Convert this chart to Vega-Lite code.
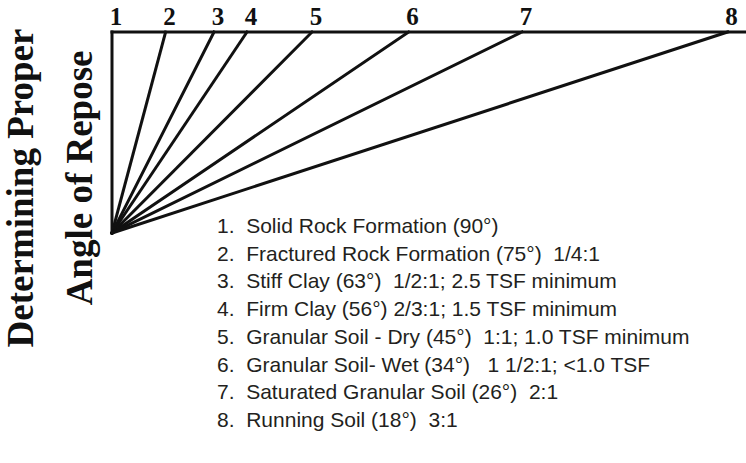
{
  "$schema": "https://vega.github.io/schema/vega-lite/v6.json",
  "width": 746,
  "height": 463,
  "padding": 0,
  "autosize": {"type": "none"},
  "background": "white",
  "config": {"view": {"stroke": null}},
  "datasets": {
    "soils": [
      {"n": 1, "angle": 90, "run": 0.0, "run0": 0, "rise0": 0, "rise1": 1, "label": "1.\u00a0 Solid Rock Formation (90°)"},
      {"n": 2, "angle": 75, "run": 0.268, "run0": 0, "rise0": 0, "rise1": 1, "label": "2.\u00a0 Fractured Rock Formation (75°)\u00a0 1/4:1"},
      {"n": 3, "angle": 63, "run": 0.510, "run0": 0, "rise0": 0, "rise1": 1, "label": "3.\u00a0 Stiff Clay (63°)\u00a0 1/2:1; 2.5 TSF minimum"},
      {"n": 4, "angle": 56, "run": 0.675, "run0": 0, "rise0": 0, "rise1": 1, "label": "4.\u00a0 Firm Clay (56°) 2/3:1; 1.5 TSF minimum"},
      {"n": 5, "angle": 45, "run": 1.0, "run0": 0, "rise0": 0, "rise1": 1, "label": "5.\u00a0 Granular Soil - Dry (45°)\u00a0 1:1; 1.0 TSF minimum"},
      {"n": 6, "angle": 34, "run": 1.483, "run0": 0, "rise0": 0, "rise1": 1, "label": "6.\u00a0 Granular Soil- Wet (34°)\u00a0 \u00a01 1/2:1; <1.0 TSF"},
      {"n": 7, "angle": 26, "run": 2.050, "run0": 0, "rise0": 0, "rise1": 1, "label": "7.\u00a0 Saturated Granular Soil (26°)\u00a0 2:1"},
      {"n": 8, "angle": 18, "run": 3.078, "run0": 0, "rise0": 0, "rise1": 1, "label": "8.\u00a0 Running Soil (18°)\u00a0 3:1"}
    ],
    "top": [
      {"x0": 0, "x1": 3.17, "rise": 1}
    ],
    "titles": [
      {"t": "Determining Proper", "tx": -0.395, "ty": 0.224},
      {"t": "Angle of Repose", "tx": -0.10, "ty": 0.274}
    ]
  },
  "layer": [
    {
      "layer": [
        {
          "data": {"name": "soils"},
          "mark": {"type": "rule", "stroke": "#111", "strokeWidth": 3, "strokeCap": "square"},
          "encoding": {
            "x": {"field": "run", "type": "quantitative", "scale": {"domain": [-0.56, 3.17], "nice": false, "zero": false}, "axis": null},
            "y": {"field": "rise1", "type": "quantitative", "scale": {"domain": [-1.1443, 1.1592], "nice": false, "zero": false}, "axis": null},
            "x2": {"field": "run0"},
            "y2": {"field": "rise0"}
          }
        },
        {
          "data": {"name": "top"},
          "mark": {"type": "rule", "stroke": "#111", "strokeWidth": 3, "strokeCap": "square"},
          "encoding": {
            "x": {"field": "x0", "type": "quantitative"},
            "x2": {"field": "x1"},
            "y": {"field": "rise", "type": "quantitative"}
          }
        },
        {
          "data": {"name": "soils"},
          "mark": {"type": "text", "font": "Liberation Serif", "fontWeight": "bold", "fontSize": 25, "baseline": "alphabetic", "align": "center", "dx": 4, "dy": -7, "color": "#111"},
          "encoding": {
            "x": {"field": "run", "type": "quantitative"},
            "y": {"field": "rise1", "type": "quantitative"},
            "text": {"field": "n"}
          }
        },
        {
          "data": {"name": "titles"},
          "mark": {"type": "text", "font": "Liberation Serif", "fontWeight": "bold", "fontSize": 37, "angle": 270, "baseline": "alphabetic", "align": "center", "color": "#111"},
          "encoding": {
            "x": {"field": "tx", "type": "quantitative"},
            "y": {"field": "ty", "type": "quantitative"},
            "text": {"field": "t"}
          }
        }
      ]
    },
    {
      "data": {"name": "soils"},
      "mark": {"type": "text", "font": "Liberation Sans", "fontSize": 21, "baseline": "alphabetic", "align": "left", "color": "#231f20"},
      "encoding": {
        "x": {"datum": 0.525, "type": "quantitative"},
        "y": {"field": "n", "type": "quantitative", "scale": {"domain": [-7.407, 9.299], "reverse": true, "nice": false, "zero": false}, "axis": null},
        "text": {"field": "label"}
      }
    }
  ],
  "resolve": {"scale": {"y": "independent"}}
}
